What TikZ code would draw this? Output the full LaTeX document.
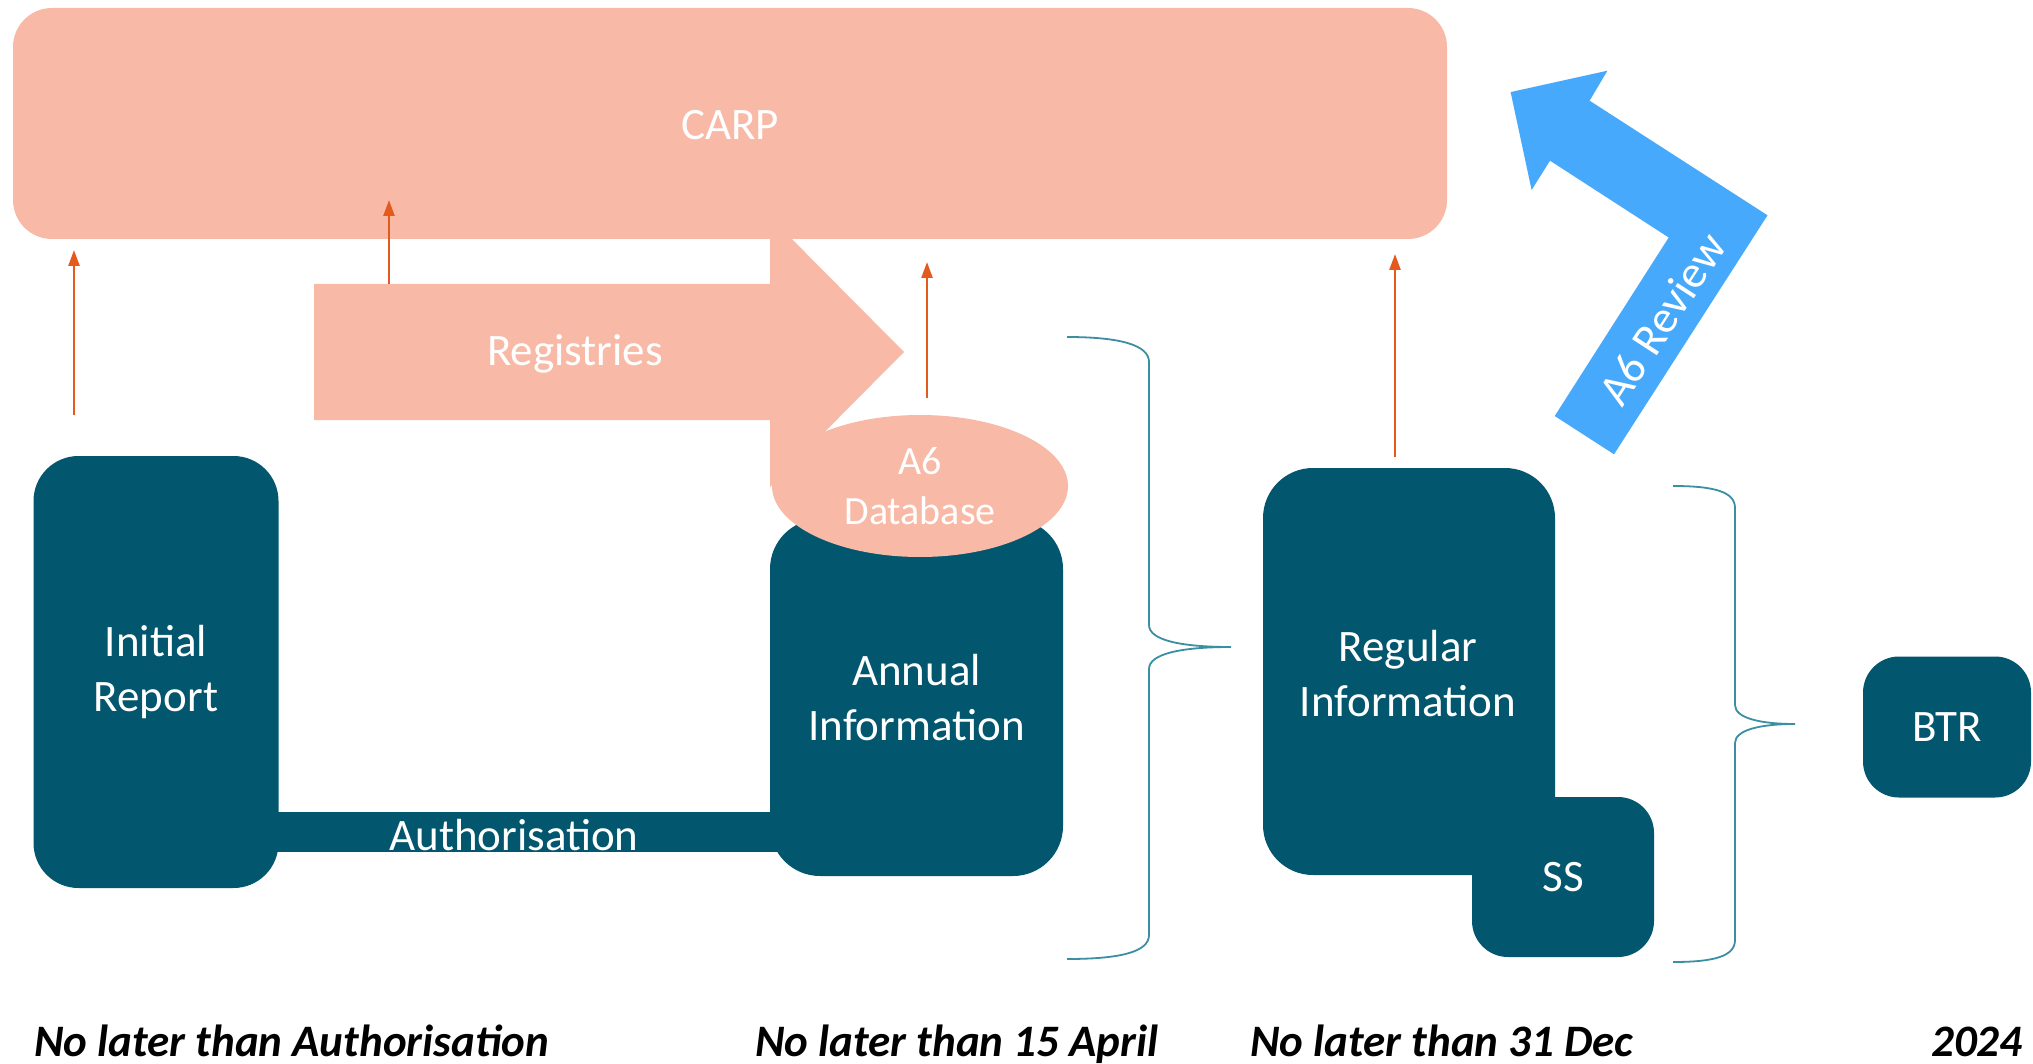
\documentclass[tikz,border=0pt]{standalone}
\usepackage{fontspec}
\setmainfont{Carlito}
\usetikzlibrary{arrows.meta,shapes.geometric}
\definecolor{salmon}{HTML}{F8B9A6}
\definecolor{tealbox}{HTML}{02566E}
\definecolor{arrorange}{HTML}{E35A1C}
\definecolor{bluearr}{HTML}{47A9FB}
\definecolor{bracecol}{HTML}{3A8FA3}
\begin{document}
\begin{tikzpicture}[x=1pt,y=-1pt,
  tbox/.style={fill=tealbox, text=white, align=center, inner sep=0pt, font=\fontsize{45}{55}\selectfont},
  sbox/.style={fill=salmon, text=white, align=center, inner sep=0pt, font=\fontsize{45}{55}\selectfont},
  oarrow/.style={draw=arrorange, line width=2.5pt, -{Triangle[length=16pt,width=11pt]}},
  bracestyle/.style={draw=bracecol, line width=1.8pt},
  wlabel/.style={text=white, font=\fontsize{45}{55}\selectfont, inner sep=0pt},
  datelabel/.style={text=black, font=\fontsize{45}{55}\selectfont\bfseries\itshape, inner sep=0pt}
]
\useasboundingbox (0,0) rectangle (2033,1064);
\fill[white] (0,0) rectangle (2033,1064);

% Registries arrow
\fill[salmon] (314,284) -- (770,284) -- (770,217) -- (904,352) -- (770,487) -- (770,420) -- (314,420) -- cycle;
\node[wlabel] (reg) at (575,354) {Registries};

% CARP
\node[sbox, rounded corners=39pt, minimum width=1434pt, minimum height=231pt] (carp) at (730,123.5) {};
\node[wlabel] (carpt) at (730,125) {CARP};

% Authorisation bar and boxes
\node[tbox, rounded corners=45pt, minimum width=245pt, minimum height=432pt] (init) at (156,672) {Initial\\Report};
\node[tbox, rounded corners=50pt, minimum width=293pt, minimum height=357pt] (ann) at (916.5,697.5) {Annual\\Information};
\fill[tealbox] ([yshift=76pt]init.south) rectangle ([yshift=24pt]ann.south);
\node[wlabel] (auth) at (514,835) {Authorisation};

\node[ellipse, fill=salmon, text=white, align=center, inner sep=0pt, minimum width=296pt, minimum height=142pt,
  font=\fontsize{40}{50}\selectfont] (db) at (920,486) {A6\\Database};

% Regular / SS / BTR
\node[tbox, rounded corners=50pt, minimum width=292pt, minimum height=407pt] (regi) at (1409,671.5) {};
\node[tbox, rounded corners=36pt, minimum width=182pt, minimum height=160pt] (ss) at (1563,877) {SS};
\node[wlabel, align=center] (regt) at (1408,674) {Regular\\Information};
\node[tbox, rounded corners=36pt, minimum width=168pt, minimum height=141pt] (btr) at (1947,727) {BTR};

% orange arrows
\coordinate (o1s) at (74,415); \coordinate (o1e) at (74,250);
\coordinate (o2s) at (389,284); \coordinate (o2e) at (389,200);
\coordinate (o3s) at (927,398); \coordinate (o3e) at (927,262);
\coordinate (o4s) at (1395,457); \coordinate (o4e) at (1395,254);
\draw[oarrow] (o1s) -- (o1e);
\draw[oarrow] (o2s) -- (o2e);
\draw[oarrow] (o3s) -- (o3e);
\draw[oarrow] (o4s) -- (o4e);

% braces
\draw[bracestyle] (1067,337) .. controls (1120,337) and (1149,345) .. (1149,362) -- (1149,625)
  .. controls (1149,640) and (1180,647) .. (1231,647)
  .. controls (1180,647) and (1149,654) .. (1149,669) -- (1149,935)
  .. controls (1149,952) and (1120,959) .. (1067,959);
\draw[bracestyle] (1673,486) .. controls (1715,486) and (1735,492) .. (1735,508) -- (1735,705)
  .. controls (1735,718) and (1760,724) .. (1795,724)
  .. controls (1760,724) and (1735,730) .. (1735,743) -- (1735,940)
  .. controls (1735,956) and (1715,962) .. (1673,962);

% A6 Review bent arrow
\fill[bluearr] (1614,454.3) -- (1767.5,215.3) -- (1589.6,100.7) -- (1607.4,70.7) -- (1510.6,92.1)
  -- (1531.6,190) -- (1550,160.7) -- (1668.7,237.5) -- (1554.7,416) -- cycle;
\node[wlabel, rotate=57, font=\fontsize{46}{55}\selectfont] (rev) at (1662,319) {A6 Review};

% dates
\node[datelabel, anchor=base west] (d1) at (34,1056) {No later than Authorisation};
\node[datelabel, anchor=base west] (d2) at (755,1056) {No later than 15 April};
\node[datelabel, anchor=base west] (d3) at (1250,1056) {No later than 31 Dec};
\node[datelabel, anchor=base west] (d4) at (1931,1056) {2024};
\end{tikzpicture}
\end{document}
